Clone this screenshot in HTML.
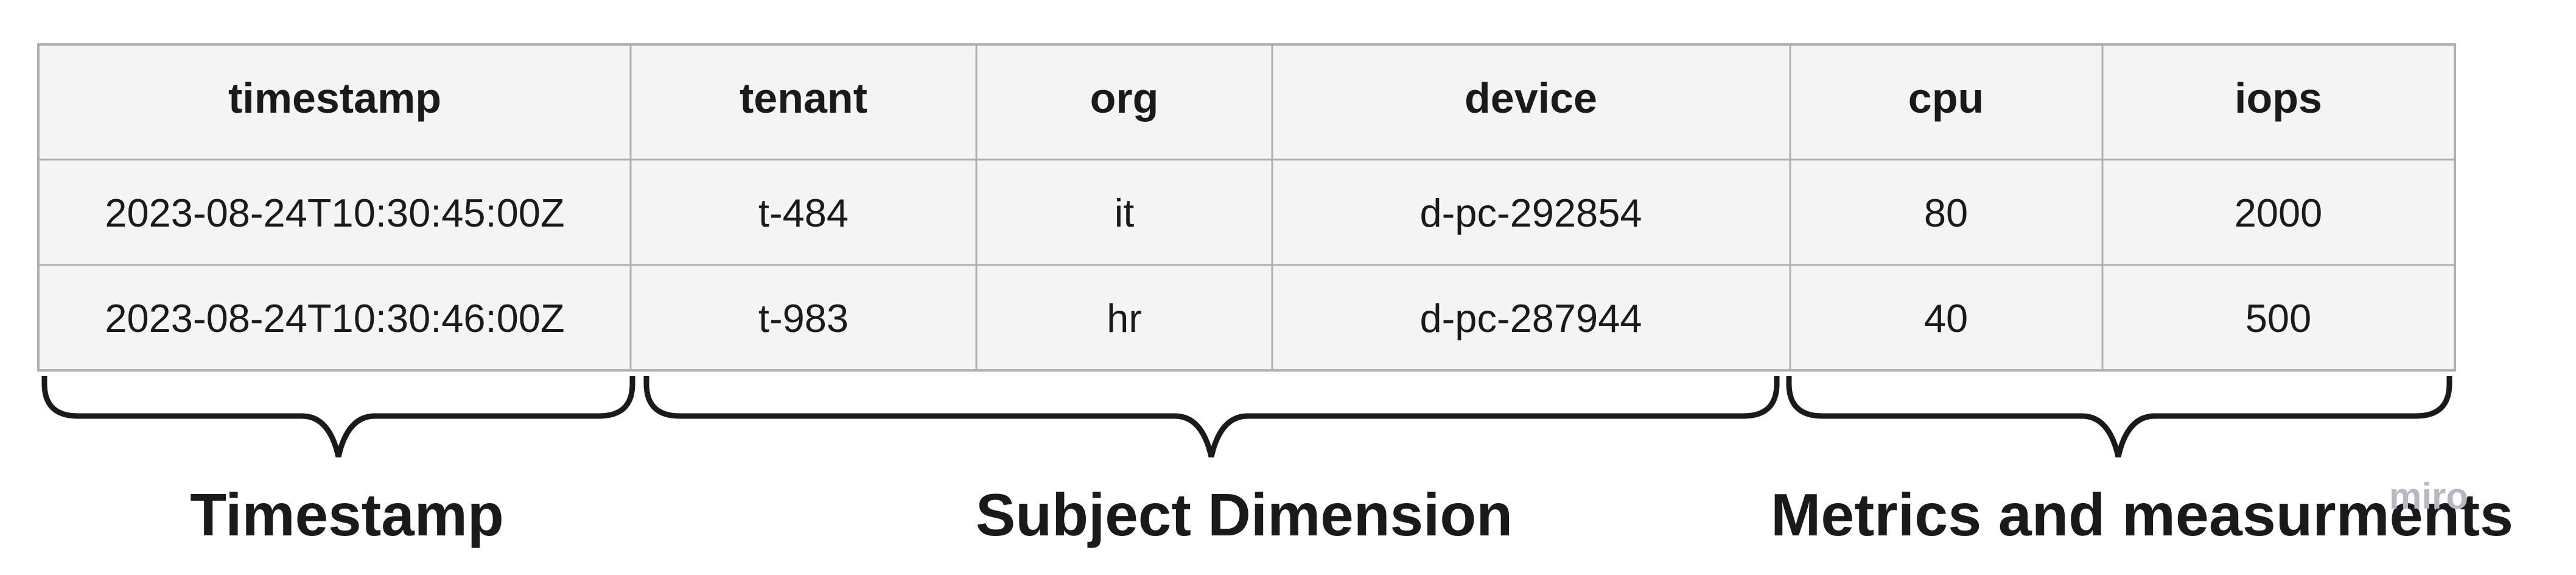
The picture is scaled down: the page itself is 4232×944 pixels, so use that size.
<!DOCTYPE html>
<html><head><meta charset="utf-8"><style>
html,body{margin:0;padding:0;background:#fff;}
svg{display:block}
</style></head><body>
<svg width="4232" height="944" viewBox="0 0 4232 944" xmlns="http://www.w3.org/2000/svg">
<rect x="0" y="0" width="4232" height="944" fill="#fff"/>
<rect x="63" y="73" width="3970" height="535" fill="#f4f4f4" stroke="#b0b0b0" stroke-width="4"/>
<g stroke="#b0b0b0" stroke-width="3">
<line x1="63" y1="262" x2="4033" y2="262"/>
<line x1="63" y1="435" x2="4033" y2="435"/>
<line x1="1036" y1="73" x2="1036" y2="608"/>
<line x1="1604" y1="73" x2="1604" y2="608"/>
<line x1="2090" y1="73" x2="2090" y2="608"/>
<line x1="2941" y1="73" x2="2941" y2="608"/>
<line x1="3454" y1="73" x2="3454" y2="608"/>
</g>
<g font-family="Liberation Sans, sans-serif" fill="#1a1a1a" text-anchor="middle">
<g font-weight="bold" font-size="70">
<text x="550" y="185">timestamp</text>
<text x="1320" y="185">tenant</text>
<text x="1847" y="185">org</text>
<text x="2515" y="185">device</text>
<text x="3197" y="185">cpu</text>
<text x="3743" y="185">iops</text>
</g>
<g font-size="65">
<text x="550" y="372">2023-08-24T10:30:45:00Z</text>
<text x="1320" y="372">t-484</text>
<text x="1847" y="372">it</text>
<text x="2515" y="372">d-pc-292854</text>
<text x="3197" y="372">80</text>
<text x="3743" y="372">2000</text>
<text x="550" y="545">2023-08-24T10:30:46:00Z</text>
<text x="1320" y="545">t-983</text>
<text x="1847" y="545">hr</text>
<text x="2515" y="545">d-pc-287944</text>
<text x="3197" y="545">40</text>
<text x="3743" y="545">500</text>
</g>
<g font-weight="bold" font-size="98">
<text x="570" y="879">Timestamp</text>
<text x="2044" y="879">Subject Dimension</text>
<text x="3519" y="879" textLength="1220" lengthAdjust="spacingAndGlyphs">Metrics and measurments</text>
</g>
<text x="3990" y="835" font-size="60" fill="#b8b8c4" font-weight="bold">miro</text>
</g>
<g fill="none" stroke="#1a1a1a" stroke-width="9" stroke-linecap="butt">
<path d="M73 617 L73 630 Q73 683 128 683 L496 683 Q541 683 556 750 Q571 683 616 683 L984 683 Q1039 683 1039 630 L1039 617"/>
<path d="M1062 617 L1062 630 Q1062 683 1117 683 L1930 683 Q1975 683 1990 750 Q2005 683 2050 683 L2864 683 Q2919 683 2919 630 L2919 617"/>
<path d="M2939 617 L2939 630 Q2939 683 2994 683 L3420 683 Q3465 683 3480 750 Q3495 683 3540 683 L3969 683 Q4024 683 4024 630 L4024 617"/>
</g>
</svg>
</body></html>
